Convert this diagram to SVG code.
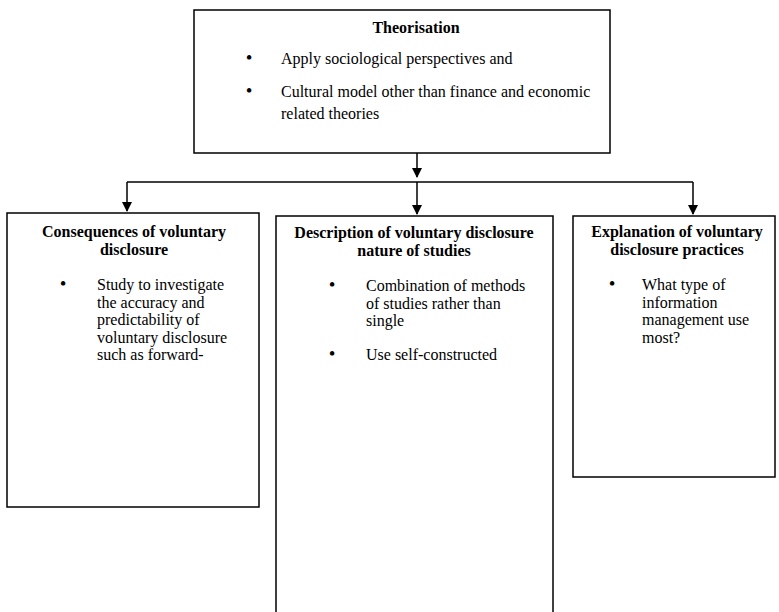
<svg xmlns="http://www.w3.org/2000/svg" width="779" height="612" viewBox="0 0 779 612">
<style>
.box{fill:#fff;stroke:#000;stroke-width:1.5}
.t{font-family:"Liberation Serif","Times New Roman",serif;font-size:16px;fill:#000}
.b{font-weight:bold;text-anchor:middle}
.bul{font-family:"Liberation Serif","Times New Roman",serif;font-size:19px;fill:#000;text-anchor:middle}
.conn{fill:none;stroke:#000;stroke-width:1.5}
</style>
<defs>
<marker id="ah" markerWidth="10" markerHeight="10" refX="9" refY="5" orient="auto" markerUnits="userSpaceOnUse">
<path d="M0,0 L10,5 L0,10 z" fill="#000"/>
</marker>
</defs>
<rect width="779" height="612" fill="#fff"/>
<g id="connectors">
<line class="conn" x1="417" y1="153" x2="417" y2="177" marker-end="url(#ah)"/>
<line class="conn" x1="127" y1="182" x2="693" y2="182"/>
<line class="conn" x1="127" y1="182" x2="127" y2="211" marker-end="url(#ah)"/>
<line class="conn" x1="417" y1="182" x2="417" y2="214" marker-end="url(#ah)"/>
<line class="conn" x1="693" y1="182" x2="693" y2="214" marker-end="url(#ah)"/>
</g>
<g id="theorisation">
<rect class="box" x="194" y="10" width="416" height="143"/>
<text class="t b" x="416" y="33">Theorisation</text>
<text class="bul" x="249" y="64">•</text>
<text class="t" x="281" y="64">Apply sociological perspectives and</text>
<text class="bul" x="249" y="97">•</text>
<text class="t" x="281" y="97">Cultural model other than finance and economic</text>
<text class="t" x="281" y="119">related theories</text>
</g>
<g id="consequences">
<rect class="box" x="7" y="213" width="252" height="294"/>
<text class="t b" x="134" y="237">Consequences of voluntary</text>
<text class="t b" x="134" y="255">disclosure</text>
<text class="bul" x="63" y="290">•</text>
<text class="t" x="97" y="290">Study to investigate</text>
<text class="t" x="97" y="307.5">the accuracy and</text>
<text class="t" x="97" y="325">predictability of</text>
<text class="t" x="97" y="342.5">voluntary disclosure</text>
<text class="t" x="97" y="360">such as forward-</text>
</g>
<g id="description">
<rect class="box" x="276" y="216" width="277" height="410"/>
<text class="t b" x="414" y="238">Description of voluntary disclosure</text>
<text class="t b" x="414" y="256">nature of studies</text>
<text class="bul" x="332" y="291">•</text>
<text class="t" x="366" y="291">Combination of methods</text>
<text class="t" x="366" y="308.5">of studies rather than</text>
<text class="t" x="366" y="326">single</text>
<text class="bul" x="332" y="360">•</text>
<text class="t" x="366" y="360">Use self-constructed</text>
</g>
<g id="explanation">
<rect class="box" x="573" y="216" width="202" height="261"/>
<text class="t b" x="677" y="237">Explanation of voluntary</text>
<text class="t b" x="677" y="255">disclosure practices</text>
<text class="bul" x="612" y="290">•</text>
<text class="t" x="642" y="290">What type of</text>
<text class="t" x="642" y="307.5">information</text>
<text class="t" x="642" y="325">management use</text>
<text class="t" x="642" y="342.5">most?</text>
</g>
</svg>
